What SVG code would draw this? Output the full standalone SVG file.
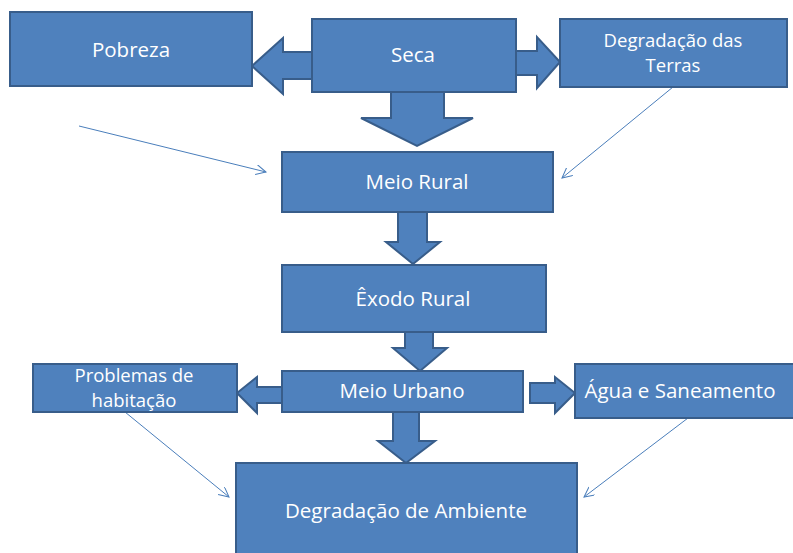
<svg xmlns="http://www.w3.org/2000/svg" width="793" height="553" viewBox="0 0 793 553">
<style>
.box{fill:#4F81BD;stroke:#385D8A;stroke-width:2}
.blk{fill:#4F81BD;stroke:#385D8A;stroke-width:2;stroke-linejoin:miter}
.thin{fill:none;stroke:#4A7EBB;stroke-width:1;marker-end:url(#open)}
text{font-family:"Open Sans","Liberation Sans",sans-serif;font-size:20.5px;fill:#FFFFFF;text-anchor:middle}
.sm{font-size:18.5px}
</style>
<defs>
<marker id="open" markerWidth="12" markerHeight="12" refX="10" refY="5" orient="auto" markerUnits="userSpaceOnUse">
<path d="M0,0 L10,5 L0,10" fill="none" stroke="#4A7EBB" stroke-width="1"/>
</marker>
</defs>
<rect width="793" height="553" fill="#FFFFFF"/>
<g id="connectors">
<polygon class="blk" points="312,52 283,52 283,38 252,66 283,94 283,79 312,79"/>
<polygon class="blk" points="516,51 537,51 537,37 560,62 537,88 537,75 516,75"/>
<polygon class="blk" points="391,92 391,118 361,118 417,146 473,118 444,118 444,92"/>
<polygon class="blk" points="398,212 398,242 386,242 413,264 440,242 427,242 427,212"/>
<polygon class="blk" points="405,332 405,348 393,348 420,371 447,348 433,348 433,332"/>
<polygon class="blk" points="282,387 257,387 257,377 237,393 257,413 257,403 282,403"/>
<polygon class="blk" points="530,383 555,383 555,377 575,393 555,413 555,403 530,403"/>
<polygon class="blk" points="393,412 393,441 378,441 406,463 435,441 419,441 419,412"/>
<line class="thin" x1="79" y1="126" x2="266" y2="172"/>
<line class="thin" x1="673" y1="87" x2="562" y2="178"/>
<line class="thin" x1="125" y1="412" x2="229" y2="497"/>
<line class="thin" x1="688" y1="418" x2="584" y2="497"/>
</g>
<g id="pobreza"><rect class="box" x="10" y="12" width="242" height="74"/><text x="131" y="57">Pobreza</text></g>
<g id="seca"><rect class="box" x="312" y="19" width="204" height="73"/><text x="413" y="62">Seca</text></g>
<g id="degradacao-terras"><rect class="box" x="560" y="19" width="227" height="68"/><text class="sm" x="673" y="47">Degradação das</text><text class="sm" x="673" y="72">Terras</text></g>
<g id="meio-rural"><rect class="box" x="282" y="152" width="271" height="60"/><text x="417" y="189">Meio Rural</text></g>
<g id="exodo-rural"><rect class="box" x="282" y="265" width="264" height="67"/><text x="413" y="306">Êxodo Rural</text></g>
<g id="meio-urbano"><rect class="box" x="282" y="371" width="241" height="41"/><text x="402" y="398">Meio Urbano</text></g>
<g id="problemas-habitacao"><rect class="box" x="33" y="364" width="204" height="48"/><text class="sm" x="134" y="382">Problemas de</text><text class="sm" x="134" y="407">habitação</text></g>
<g id="agua-saneamento"><rect class="box" x="575" y="364" width="220" height="54"/><text x="680" y="398">Água e Saneamento</text></g>
<g id="degradacao-ambiente"><rect class="box" x="236" y="463" width="341" height="95"/><text x="406" y="518">Degradação de Ambiente</text></g>
</svg>
